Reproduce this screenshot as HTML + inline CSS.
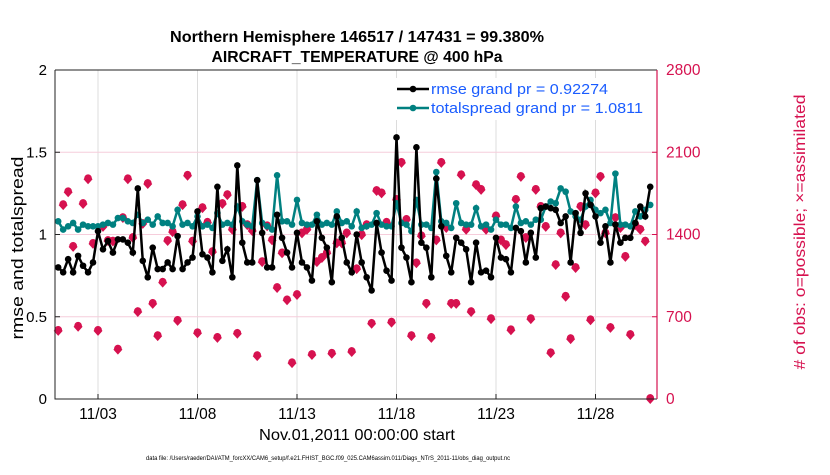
<!DOCTYPE html>
<html><head><meta charset="utf-8"><style>
body{margin:0;background:#fff;font-family:"Liberation Sans",sans-serif}
svg text{font-family:"Liberation Sans",sans-serif}
</style></head><body>
<svg id="chart" width="830" height="470" xmlns="http://www.w3.org/2000/svg">
<g id="grid"></g>
<g id="series"></g>
<g id="axes"></g>
<text x="357" y="42" text-anchor="middle" font-size="16" font-weight="bold" textLength="374" lengthAdjust="spacingAndGlyphs">Northern Hemisphere 146517 / 147431 = 99.380%</text>
<text x="357" y="62" text-anchor="middle" font-size="16" font-weight="bold" textLength="291" lengthAdjust="spacingAndGlyphs">AIRCRAFT_TEMPERATURE @ 400 hPa</text>
<text transform="translate(23,248) rotate(-90)" text-anchor="middle" font-size="17" textLength="183" lengthAdjust="spacingAndGlyphs">rmse and totalspread</text>
<text transform="translate(805,232) rotate(-90)" text-anchor="middle" font-size="16" fill="#d6114f" textLength="275" lengthAdjust="spacingAndGlyphs"># of obs: o=possible; ×=assimilated</text>
<text x="357" y="440" text-anchor="middle" font-size="16" textLength="196" lengthAdjust="spacingAndGlyphs">Nov.01,2011 00:00:00 start</text>
<text x="328" y="460" text-anchor="middle" font-size="6.5" textLength="364" lengthAdjust="spacingAndGlyphs">data file: /Users/raeder/DAI/ATM_forcXX/CAM6_setup/f.e21.FHIST_BGC.f09_025.CAM6assim.011/Diags_NTrS_2011-11/obs_diag_output.nc</text>
<g>
<rect x="390" y="78" width="262" height="42" fill="#fff"/>
<line x1="397" y1="89" x2="429" y2="89" stroke="#000" stroke-width="2.5"/><circle cx="413" cy="89" r="3.3" fill="#000"/>
<text x="431" y="94" font-size="15" fill="#1a5cff" textLength="177" lengthAdjust="spacingAndGlyphs">rmse grand pr = 0.92274</text>
<line x1="397" y1="108" x2="429" y2="108" stroke="#008080" stroke-width="2.5"/><circle cx="413" cy="108" r="3.3" fill="#008080"/>
<text x="431" y="113" font-size="15" fill="#1a5cff" textLength="212" lengthAdjust="spacingAndGlyphs">totalspread grand pr = 1.0811</text>
</g>
</svg>
<script>
const rmse=[0.80,0.77,0.85,0.77,0.87,0.81,0.77,0.83,1.02,0.91,0.96,0.89,0.97,0.97,0.95,0.89,1.28,0.84,0.74,0.92,0.79,0.79,0.83,0.79,0.99,0.79,0.83,0.86,1.14,0.88,0.86,0.77,1.29,0.84,0.91,0.74,1.42,0.95,0.83,0.83,1.33,
1.01,0.80,0.80,1.12,0.98,0.89,0.80,1.01,0.83,0.80,0.72,1.08,0.98,0.92,0.71,1.11,0.98,0.83,0.77,1.00,0.83,0.74,0.66,1.07,0.89,0.78,0.72,1.59,0.92,0.86,0.71,1.53,0.95,0.92,0.74,1.34,1.05,0.87,0.77,0.98,
0.95,0.91,0.71,0.95,0.77,0.78,0.74,0.98,0.86,0.85,0.77,1.04,1.02,0.83,1.01,0.86,1.16,1.17,1.16,1.15,1.07,1.11,0.83,1.13,1.01,1.25,1.18,1.11,0.95,1.05,0.83,1.06,0.95,0.98,0.98,1.07,1.17,1.11,1.29];
const spread=[1.08,1.03,1.05,1.07,1.03,1.06,1.05,1.05,1.05,1.06,1.07,1.06,1.10,1.10,1.08,1.07,1.12,1.07,1.09,1.06,1.11,1.07,1.07,1.05,1.15,1.06,1.07,1.05,1.11,1.05,1.06,1.04,1.13,1.06,1.07,1.06,1.17,1.08,1.06,1.05,1.33,
1.07,1.05,1.03,1.36,1.08,1.08,1.06,1.21,1.07,1.06,1.06,1.12,1.06,1.07,1.06,1.14,1.07,1.08,1.05,1.14,1.04,1.05,1.06,1.13,1.06,1.05,1.05,1.19,1.07,1.06,1.02,1.21,1.06,1.06,1.04,1.38,1.08,1.07,1.04,1.19,
1.07,1.06,1.06,1.16,1.05,1.06,1.03,1.09,1.06,1.06,1.04,1.17,1.07,1.08,1.06,1.09,1.09,1.17,1.20,1.19,1.28,1.26,1.14,1.11,1.09,1.17,1.21,1.15,1.13,1.15,1.07,1.37,1.06,1.06,1.05,1.14,1.11,1.15,1.18];
const nobs=[580,1650,1760,1295,615,1660,1870,1320,580,1465,1345,1340,420,1540,1870,1370,740,1490,1830,810,535,990,1345,1420,665,1650,1900,1340,560,1625,1500,1250,520,1660,1735,1440,555,1635,1480,1430,365,
1165,1470,1350,945,1240,840,305,885,1410,1440,375,1165,1200,1240,385,1325,1325,1410,400,1105,1395,1480,640,1770,1750,1500,650,1695,2010,1525,535,1155,1385,810,520,1350,2010,1455,810,
810,1905,1440,740,1820,1780,1440,680,1555,1350,1310,585,1695,1890,1370,680,1780,1635,1465,390,1140,1410,870,510,1115,1635,1480,670,1750,1890,1410,605,1540,1455,1210,545,1480,1440,1340,0];
const xTickDays=[2,7,12,17,22,27];
const xTickLabels=["11/03","11/08","11/13","11/18","11/23","11/28"];
const yTicks=[0,0.5,1,1.5,2];
const y2Ticks=[0,700,1400,2100,2800];

const L=55,R=657,T=70,B=399,NS="http://www.w3.org/2000/svg";
const xDay=d=>58.2+d*19.9;
const xi=i=>xDay(i*0.25);
const y=v=>B-(v/2)*(B-T);
const y2=v=>B-(v/2800)*(B-T);
function mk(tag,at,parent){const e=document.createElementNS(NS,tag);for(const k in at)e.setAttribute(k,at[k]);parent.appendChild(e);return e;}
const grid=document.getElementById('grid'),ser=document.getElementById('series'),ax=document.getElementById('axes');
xTickDays.forEach((d,k)=>{
 const l=mk('line',{x1:xDay(d),x2:xDay(d),y1:T,y2:B,stroke:'#dcdcdc','stroke-width':1},grid);
 
 
 const t=mk('line',{x1:xDay(d),x2:xDay(d),y1:B,y2:B-5,stroke:'#222'},ax);
 
 
 const tx=mk('text',{x:xDay(d),y:B+20,'text-anchor':'middle','font-size':15.5},ax);tx.textContent=xTickLabels[k];
 
 
});
yTicks.forEach(v=>{
 if(v>0&&v<2){const g=mk('line',{x1:L,x2:R,y1:y(v),y2:y(v),stroke:'#f6cddb','stroke-width':1},grid);
 
 }
 const t=mk('line',{x1:L,x2:L+5,y1:y(v),y2:y(v),stroke:'#222'},ax);
 
 
 const tx=mk('text',{x:L-8,y:y(v)+5,'text-anchor':'end','font-size':15},ax);tx.textContent=String(v);
 
 
});
y2Ticks.forEach(v=>{
 const t=mk('line',{x1:R-5,x2:R,y1:y2(v),y2:y2(v),stroke:'#d6114f'},ax);
 
 
 const tx=mk('text',{x:R+9,y:y2(v)+5,'font-size':15.5,fill:'#d6114f'},ax);tx.textContent=String(v);
 
 
});
const fr=mk('path',{d:`M${L},${T}H${R}M${L},${T}V${B}H${R}`,fill:'none',stroke:'#222','stroke-width':1},ax);


const rax=mk('line',{x1:R,x2:R,y1:T,y2:B,stroke:'#d6114f','stroke-width':1.2},ax);


nobs.forEach((v,i)=>{
 const g=mk('g',{},ser);
 
 
 const cx=xi(i),cy=y2(v);
 mk('circle',{cx:cx,cy:cy-1,r:3.2,fill:'none',stroke:'#d6114f','stroke-width':1.3},g);
 mk('path',{d:`M${cx},${cy-5}L${cx+4.5},${cy}L${cx},${cy+5}L${cx-4.5},${cy}Z`,fill:'#d6114f'},g);
});
function line(arr,col,name){
 const p=mk('polyline',{points:arr.map((v,i)=>xi(i)+','+y(v)).join(' '),fill:'none',stroke:col,'stroke-width':2.5},ser);
 
 
 arr.forEach((v,i)=>{const c=mk('circle',{cx:xi(i),cy:y(v),r:3.3,fill:col},ser);
 
 });
}
line(spread,'#008080','totalspread');
line(rmse,'#000000','rmse');
</script>
</body></html>
